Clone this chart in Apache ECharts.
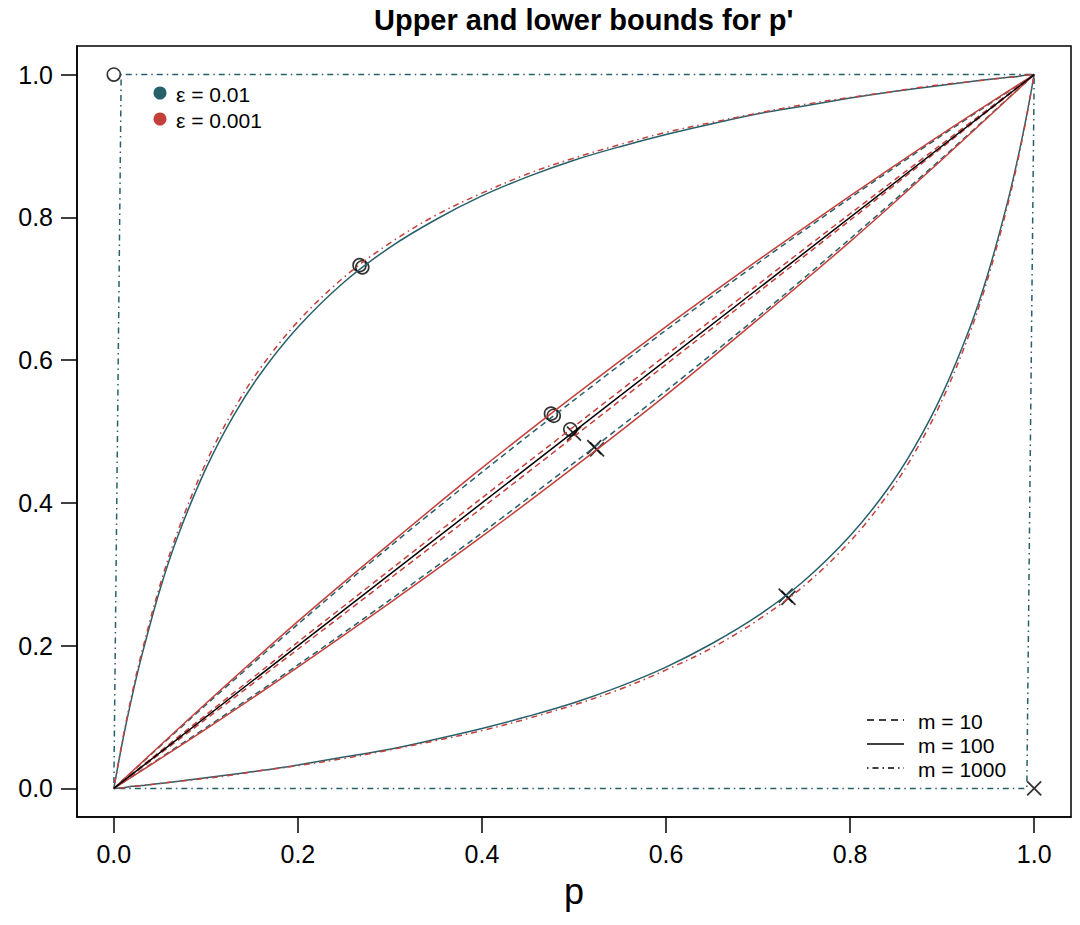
<!DOCTYPE html>
<html>
<head>
<meta charset="utf-8">
<title>Upper and lower bounds for p'</title>
<script src="https://cdn.jsdelivr.net/npm/echarts@6/dist/echarts.min.js"></script>
<style>
  html, body { margin: 0; padding: 0; background: #fff; }
  #chart { width: 1080px; height: 925px; }
</style>
</head>
<body>
<div id="chart"></div>
<script>
  // p grid for the two outer bound pairs (finer near the ends)
  const P = [0, 0.01, 0.02, 0.03, 0.05, 0.07, 0.1, 0.13, 0.16, 0.2, 0.25, 0.3, 0.35, 0.4, 0.45, 0.5,
             0.55, 0.6, 0.65, 0.7, 0.75, 0.8, 0.84, 0.87, 0.9, 0.93, 0.95, 0.97, 0.98, 0.99, 1];
  // m = 100, eps = 0.01 (teal solid)
  const UP_T100 = [0, 0.069, 0.130, 0.184, 0.278, 0.355, 0.448, 0.522, 0.582, 0.646, 0.709, 0.758, 0.797, 0.830, 0.857, 0.880,
                   0.899, 0.916, 0.931, 0.945, 0.956, 0.967, 0.975, 0.980, 0.985, 0.990, 0.993, 0.996, 0.997, 0.999, 1];
  const LO_T100 = [0, 0.001, 0.003, 0.004, 0.007, 0.010, 0.015, 0.020, 0.025, 0.033, 0.044, 0.055, 0.069, 0.084, 0.101, 0.120,
                   0.143, 0.170, 0.203, 0.242, 0.291, 0.354, 0.418, 0.478, 0.552, 0.645, 0.722, 0.816, 0.870, 0.931, 1];
  // m = 1000, eps = 0.001 (red dot-dash)
  const UP_R1000 = [0, 0.071, 0.134, 0.189, 0.284, 0.362, 0.456, 0.530, 0.590, 0.654, 0.716, 0.764, 0.803, 0.834, 0.861, 0.883,
                    0.902, 0.919, 0.933, 0.946, 0.958, 0.968, 0.975, 0.981, 0.986, 0.990, 0.993, 0.996, 0.997, 0.999, 1];
  const LO_R1000 = [0, 0.001, 0.003, 0.004, 0.007, 0.010, 0.014, 0.019, 0.025, 0.032, 0.042, 0.054, 0.067, 0.081, 0.098, 0.117,
                    0.139, 0.166, 0.197, 0.236, 0.284, 0.346, 0.410, 0.470, 0.544, 0.638, 0.716, 0.811, 0.866, 0.929, 1];

  // coarser grid for the near-diagonal bounds
  const Q = [0, 0.1, 0.2, 0.3, 0.4, 0.5, 0.6, 0.7, 0.8, 0.9, 1];
  const UP_R100 = [0, 0.119, 0.234, 0.343, 0.449, 0.550, 0.647, 0.740, 0.830, 0.917, 1];
  const LO_R100 = [0, 0.083, 0.170, 0.260, 0.353, 0.450, 0.551, 0.657, 0.766, 0.881, 1];
  const UP_T10 = [0, 0.117, 0.230, 0.339, 0.443, 0.544, 0.642, 0.736, 0.827, 0.915, 1];
  const LO_T10 = [0, 0.085, 0.173, 0.264, 0.358, 0.456, 0.557, 0.661, 0.770, 0.883, 1];
  const UP_R10 = [0, 0.103, 0.205, 0.306, 0.407, 0.507, 0.607, 0.706, 0.805, 0.903, 1];
  const LO_R10 = [0, 0.097, 0.195, 0.294, 0.393, 0.493, 0.594, 0.695, 0.796, 0.898, 1];

  // m = 1000, eps = 0.01 (teal dot-dash, almost the whole box)
  const UP_T1000_X = [0, 0.008, 1];
  const UP_T1000_Y = [0, 1, 1];
  const LO_T1000_X = [0, 0.992, 1];
  const LO_T1000_Y = [0, 0, 1];

  const DIAG_X = [0, 1];
  const DIAG_Y = [0, 1];

  // markers where each bound crosses p + p' = 1
  const CIRCLE_X = [0, 0.267, 0.270, 0.475, 0.478, 0.496];
  const CIRCLE_Y = [1, 0.733, 0.730, 0.525, 0.522, 0.503];
  const CROSS_X = [1, 0.730, 0.733, 0.522, 0.525, 0.500];
  const CROSS_Y = [0, 0.270, 0.267, 0.478, 0.475, 0.497];

  const TICKS = [0, 0.2, 0.4, 0.6, 0.8, 1];
  const EPS_LABELS = ['ε = 0.01', 'ε = 0.001'];
  const M_LABELS = ['m = 10', 'm = 100', 'm = 1000'];

  const TEAL = '#27606b';
  const RED = '#c4403b';
  const FONT = '"Liberation Sans", Arial, Helvetica, sans-serif';
  const DASH = [6, 4];
  const DOTDASH = [1.5, 4, 6, 4];

  function pairs(xs, ys) {
    return xs.map(function (x, i) { return [x, ys[i]]; });
  }

  function curve(name, xs, ys, color, type, smooth) {
    return {
      name: name,
      type: 'line',
      data: pairs(xs, ys),
      symbol: 'none',
      silent: true,
      smooth: smooth || false,
      lineStyle: { color: color, width: 1.5, type: type }
    };
  }

  const chart = echarts.init(document.getElementById('chart'), null, { renderer: 'svg' });

  const axisCommon = {
    type: 'value',
    min: -0.04,
    max: 1.04,
    splitLine: { show: false },
    axisLine: { show: true, onZero: false, lineStyle: { color: '#000', width: 1.5 } },
    axisTick: { show: true, customValues: TICKS, length: 16, lineStyle: { color: '#000', width: 1.5 } },
    axisLabel: {
      customValues: TICKS,
      formatter: function (v) { return v.toFixed(1); },
      fontSize: 25,
      color: '#000',
      fontFamily: FONT,
      margin: 24
    }
  };

  const option = {
    animation: false,
    backgroundColor: '#fff',
    textStyle: { fontFamily: FONT },
    title: {
      text: "Upper and lower bounds for p'",
      left: 369,
      top: 0,
      textStyle: { fontSize: 29, fontWeight: 'bold', color: '#000', fontFamily: FONT }
    },
    grid: { left: 77, right: 9, top: 46, bottom: 108, show: true, borderColor: '#000', borderWidth: 1.5 },
    xAxis: Object.assign({}, axisCommon, {
      name: 'p',
      nameLocation: 'middle',
      nameGap: 56,
      nameTextStyle: { fontSize: 36, color: '#000', fontFamily: FONT }
    }),
    yAxis: Object.assign({}, axisCommon),
    series: [
      curve('m1000 e0.01 up', UP_T1000_X, UP_T1000_Y, TEAL, DOTDASH),
      curve('m1000 e0.01 lo', LO_T1000_X, LO_T1000_Y, TEAL, DOTDASH),
      curve('m100 e0.01 up', P, UP_T100, TEAL, 'solid', 0.35),
      curve('m100 e0.01 lo', P, LO_T100, TEAL, 'solid', 0.35),
      curve('m1000 e0.001 up', P, UP_R1000, RED, DOTDASH, 0.35),
      curve('m1000 e0.001 lo', P, LO_R1000, RED, DOTDASH, 0.35),
      curve('m10 e0.01 up', Q, UP_T10, TEAL, DASH, 0.3),
      curve('m10 e0.01 lo', Q, LO_T10, TEAL, DASH, 0.3),
      curve('m100 e0.001 up', Q, UP_R100, RED, 'solid', 0.3),
      curve('m100 e0.001 lo', Q, LO_R100, RED, 'solid', 0.3),
      curve('m10 e0.001 up', Q, UP_R10, RED, DASH, 0.3),
      curve('m10 e0.001 lo', Q, LO_R10, RED, DASH, 0.3),
      curve('diagonal', DIAG_X, DIAG_Y, '#000', 'solid'),
      {
        name: 'upper marks',
        type: 'scatter',
        data: pairs(CIRCLE_X, CIRCLE_Y),
        symbol: 'circle',
        symbolSize: 13,
        silent: true,
        itemStyle: { color: 'rgba(0,0,0,0)', borderColor: '#000', borderWidth: 1.6 }
      },
      {
        name: 'lower marks',
        type: 'scatter',
        data: pairs(CROSS_X, CROSS_Y),
        symbol: 'path://M0,0L10,10M10,0L0,10',
        symbolSize: 14,
        silent: true,
        itemStyle: { color: 'none', borderColor: '#000', borderWidth: 1.8 }
      }
    ],
    graphic: [
      { type: 'circle', shape: { cx: 160, cy: 93, r: 6.5 }, style: { fill: TEAL } },
      { type: 'text', x: 176, y: 94, style: { text: EPS_LABELS[0], fontSize: 21, fill: '#000', verticalAlign: 'middle', fontFamily: FONT } },
      { type: 'circle', shape: { cx: 160, cy: 119, r: 6.5 }, style: { fill: RED } },
      { type: 'text', x: 176, y: 120, style: { text: EPS_LABELS[1], fontSize: 21, fill: '#000', verticalAlign: 'middle', fontFamily: FONT } },

      { type: 'line', shape: { x1: 867, y1: 720, x2: 904, y2: 720 }, style: { stroke: '#000', lineWidth: 1.3, lineDash: [7, 5] } },
      { type: 'text', x: 918, y: 721, style: { text: M_LABELS[0], fontSize: 21, fill: '#000', verticalAlign: 'middle', fontFamily: FONT } },
      { type: 'line', shape: { x1: 867, y1: 744, x2: 904, y2: 744 }, style: { stroke: '#000', lineWidth: 1.3 } },
      { type: 'text', x: 918, y: 745, style: { text: M_LABELS[1], fontSize: 21, fill: '#000', verticalAlign: 'middle', fontFamily: FONT } },
      { type: 'line', shape: { x1: 867, y1: 768, x2: 904, y2: 768 }, style: { stroke: '#000', lineWidth: 1.3, lineDash: [1.5, 4, 6, 4] } },
      { type: 'text', x: 918, y: 769, style: { text: M_LABELS[2], fontSize: 21, fill: '#000', verticalAlign: 'middle', fontFamily: FONT } }
    ]
  };

  chart.setOption(option);
</script>
</body>
</html>
